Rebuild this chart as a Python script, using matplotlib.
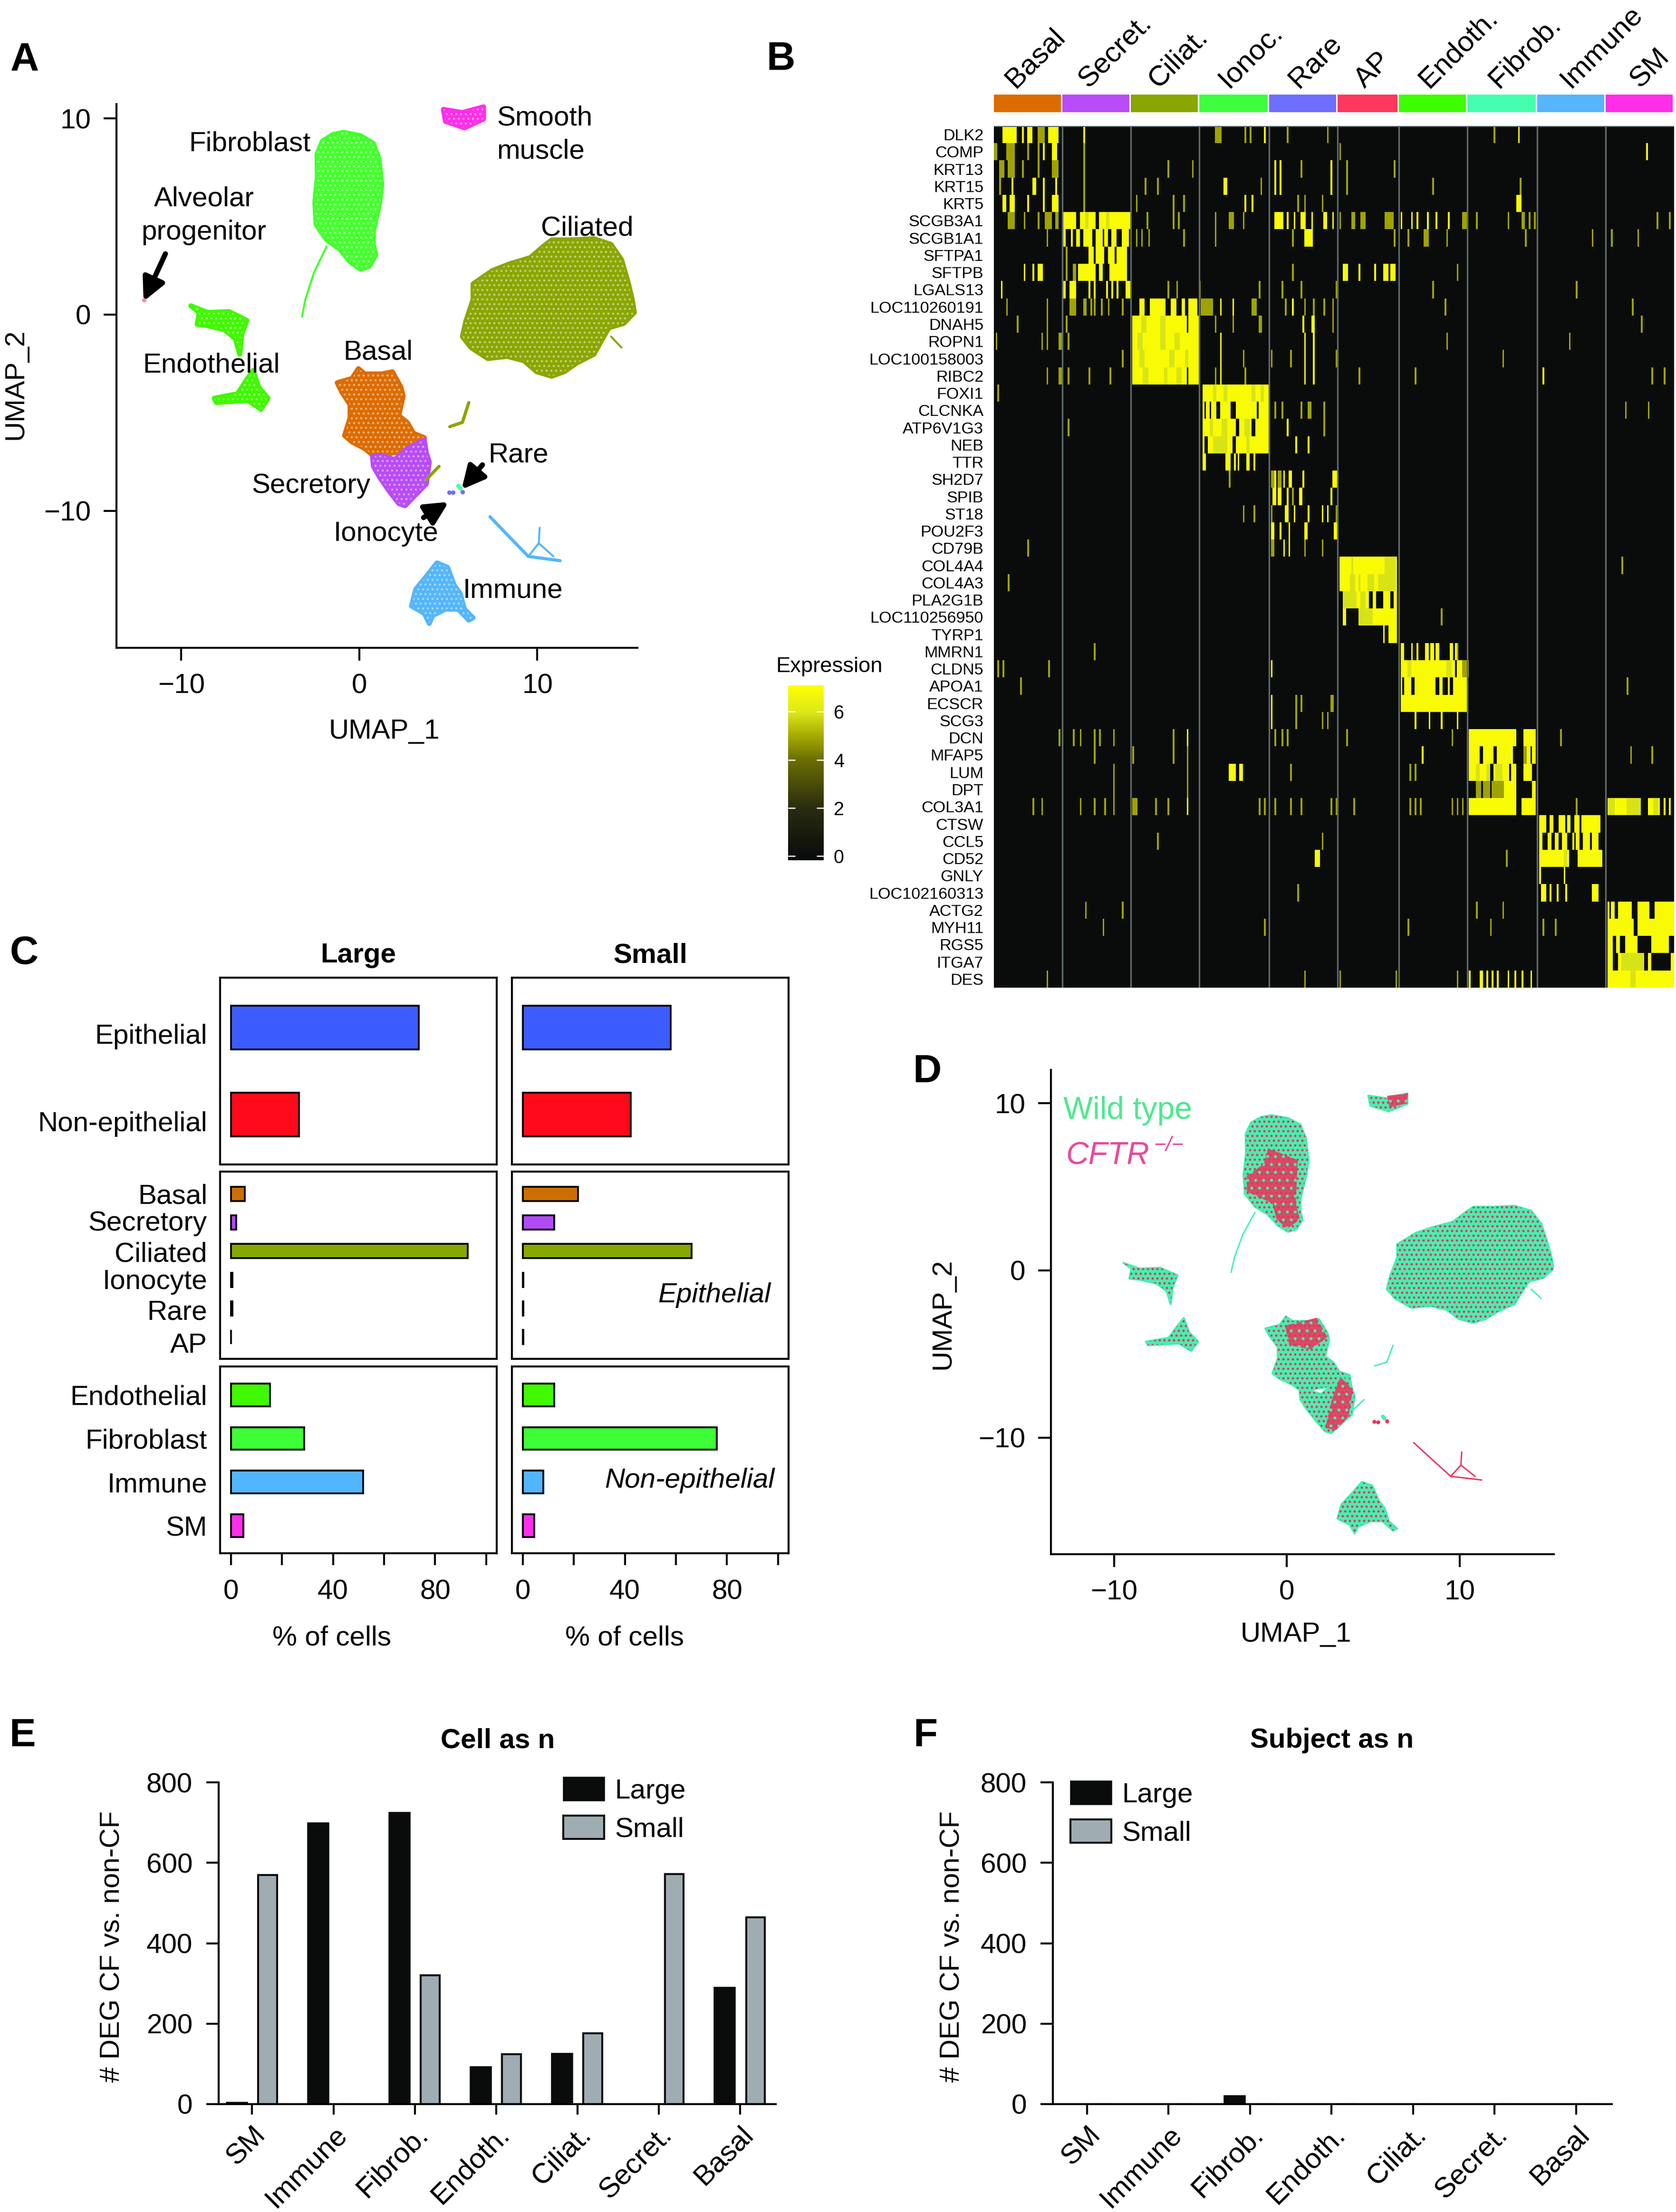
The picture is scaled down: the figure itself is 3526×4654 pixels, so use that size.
import matplotlib
matplotlib.use('Agg')
import matplotlib.pyplot as plt
import numpy as np
from matplotlib.colors import LinearSegmentedColormap, Normalize
from matplotlib.transforms import ScaledTranslation

W, H = 3526, 4654
plt.rcParams['font.family'] = ['Liberation Sans', 'DejaVu Sans']
plt.rcParams['font.size'] = 14
plt.rcParams['hatch.linewidth'] = 0.7
plt.rcParams['axes.linewidth'] = 1.0

# colours
c_basal = '#dd6c00'
c_secret = '#b84cf8'
c_ciliat = '#8aa600'
c_ionoc = '#3dff3d'
c_rare = '#6e6eff'
c_ap = '#ff3860'
c_endoth = '#40f800'
c_fibrob = '#45ff2e'
c_fibrob_head = '#45ffb0'
c_immune = '#55b6fb'
c_sm = '#ff2ee8'

# UMAP cluster outlines
fibroblast = [(-2.07, 8.85), (-1.48, 9.18), (-0.88, 9.29), (0.07, 9.12), (0.79, 8.73), (1.10, 7.95), (1.26, 6.61),
              (1.14, 5.71), (0.79, 4.26), (0.79, 3.58), (0.91, 3.02), (0.55, 2.46), (0.07, 2.31), (-0.52, 2.69),
              (-1.12, 3.36), (-1.84, 3.81), (-2.43, 4.59), (-2.50, 5.71), (-2.36, 7.05), (-2.38, 8.17)]
fibroblast_tail = [(-1.84, 3.47), (-2.55, 2.13), (-3.03, 0.78), (-3.22, -0.11)]
ciliated = [(10.80, 3.81), (11.99, 3.81), (13.18, 3.87), (14.14, 3.58), (14.73, 2.80), (15.09, 1.68), (15.33, 0.78),
            (15.45, 0.11), (14.85, -0.45), (14.02, -0.67), (13.66, -1.23), (13.18, -2.02), (12.23, -2.46), (11.51, -2.91),
            (10.80, -3.14), (9.96, -2.91), (9.25, -2.35), (8.30, -2.13), (7.22, -2.24), (6.27, -1.68), (5.79, -1.12),
            (5.98, -0.34), (6.39, 0.78), (6.39, 1.57), (7.46, 2.24), (8.41, 2.58), (9.61, 2.91), (10.32, 3.47)]
ciliated_tail = [(14.14, -1.12), (14.73, -1.68)]
ciliated_bit = [(6.15, -4.48), (5.79, -5.49), (5.08, -5.71)]
ciliated_bit2 = [(4.48, -7.73), (3.77, -8.40)]
basal = [(-1.24, -3.47), (-0.41, -3.25), (-0.05, -2.75), (0.31, -3.02), (1.26, -3.02), (1.86, -2.91), (2.34, -3.70),
         (2.46, -4.14), (2.22, -5.15), (2.69, -5.49), (3.05, -6.05), (3.65, -6.27), (3.65, -6.83), (2.69, -6.94),
         (1.86, -7.05), (0.91, -7.28), (0.31, -6.83), (-0.41, -6.49), (-0.83, -6.16), (-0.52, -5.26), (-0.52, -4.59),
         (-1.00, -3.92)]
secretory = [(0.74, -7.23), (1.26, -7.17), (1.98, -7.39), (2.69, -6.83), (3.65, -6.38), (3.77, -7.05), (3.93, -7.50),
             (3.77, -8.62), (3.17, -9.18), (2.57, -9.74), (2.22, -9.63), (1.74, -9.07), (1.14, -8.29), (0.79, -7.73)]
endo_top = [(-9.46, 0.45), (-8.51, 0.11), (-7.32, 0.16), (-6.32, -0.29), (-6.60, -1.01), (-6.72, -2.02), (-6.96, -1.23),
            (-7.56, -0.78), (-8.51, -0.56), (-9.11, -0.49), (-8.99, 0.11)]
endo_low = [(-8.15, -4.26), (-6.84, -4.03), (-6.36, -3.36), (-5.96, -2.84), (-5.65, -3.70), (-5.13, -4.26), (-5.53, -4.82),
            (-6.25, -4.37), (-8.03, -4.48)]
smooth = [(4.72, 10.46), (5.79, 10.30), (6.98, 10.59), (6.98, 9.97), (5.91, 9.52), (4.84, 9.85)]
immune = [(3.77, -13.33), (4.36, -12.65), (4.96, -12.88), (5.32, -13.77), (5.67, -14.22), (5.91, -15.01), (6.39, -15.45),
          (6.15, -15.57), (5.55, -15.01), (4.84, -15.01), (4.12, -15.34), (3.93, -15.74), (3.65, -15.23), (2.93, -14.85),
          (3.17, -14.00)]
immune_streak = [(7.34, -10.30), (8.41, -11.31), (9.49, -12.32), (11.28, -12.54)]
immune_streak2 = [(9.49, -12.32), (10.08, -11.65), (10.13, -10.86)]
immune_streak3 = [(10.08, -11.65), (10.90, -12.32)]
rare_pts = [(5.79, -9.03), (5.27, -9.07), (5.05, -9.05)]
ionocyte_pts = [(5.55, -8.73), (5.65, -8.85)]
alveolar_pts = [(-12.09, 0.74)]

# denser CFTR-/- patches
dense_fibro = [(-1.08, 7.31), (0.64, 6.60), (0.52, 4.01), (0.76, 3.07), (0.02, 2.48), (-0.59, 3.07), (-0.83, 4.01),
               (-2.31, 4.72), (-2.31, 5.66), (-1.33, 6.37)]
dense_basal = [(-0.10, -3.30), (1.74, -2.83), (2.36, -4.01), (1.37, -4.72), (0.15, -4.48)]
dense_secret = [(3.09, -6.37), (3.83, -7.08), (3.58, -8.73), (2.85, -9.55), (2.23, -9.43), (2.60, -7.78)]
dense_sm = [(5.80, 10.45), (7.02, 10.60), (6.95, 10.00), (5.95, 9.75)]

# panel C bars
c_top_names = ['Epithelial', 'Non-epithelial']
c_top_large = [73.6, 26.6]
c_top_small = [57.9, 42.3]
c_top_colors = ['#3d5cff', '#ff0a1a']
c_top_label_y = [0.076, 1.076]
c_mid_names = ['Basal', 'Secretory', 'Ciliated', 'Ionocyte', 'Rare', 'AP']
c_mid_large = [5.4, 2.2, 92.7, 0.6, 0.6, 0]
c_mid_small = [21.6, 12.3, 66.1, 0.3, 0.3, 0.3]
c_mid_colors = ['#cc6f00', '#b24bf5', '#86a800', c_ionoc, c_rare, c_ap]
c_mid_label_y = [0, 0.94, 2.02, 2.97, 4.04, 5.2]
c_low_names = ['Endothelial', 'Fibroblast', 'Immune', 'SM']
c_low_large = [15.3, 28.8, 51.8, 5.0]
c_low_small = [12.3, 76.0, 8.1, 4.6]
c_low_colors = ['#40f800', '#3dff35', '#52b6ff', '#ff2eea']
c_low_label_y = [0, 1, 2, 3]

# panels E and F bars
deg_names = ['SM', 'Immune', 'Fibrob.', 'Endoth.', 'Ciliat.', 'Secret.', 'Basal']
cell_large = [5, 699, 726, 93, 127, 0, 291]
cell_small = [569, 0, 320, 124, 176, 572, 464]
subj_large = [0, 0, 21, 0, 0, 0, 0]
subj_small = [0, 0, 0, 0, 0, 0, 0]

# heatmap: stripes per gene in cell columns, int = one cell, tuple = [start, end)
hm_groups = ['Basal', 'Secret.', 'Ciliat.', 'Ionoc.', 'Rare', 'AP', 'Endoth.', 'Fibrob.', 'Immune', 'SM']
hm_edges = [0, 39, 78, 117, 157, 196, 231, 270, 310, 349, 388]
hm_colors = [c_basal, c_secret, c_ciliat, c_ionoc, c_rare, c_ap, '#3dff00', c_fibrob_head, c_immune, c_sm]
hm_genes = ['DLK2', 'COMP', 'KRT13', 'KRT15', 'KRT5', 'SCGB3A1', 'SCGB1A1', 'SFTPA1', 'SFTPB', 'LGALS13',
            'LOC110260191', 'DNAH5', 'ROPN1', 'LOC100158003', 'RIBC2', 'FOXI1', 'CLCNKA', 'ATP6V1G3', 'NEB', 'TTR',
            'SH2D7', 'SPIB', 'ST18', 'POU2F3', 'CD79B', 'COL4A4', 'COL4A3', 'PLA2G1B', 'LOC110256950', 'TYRP1',
            'MMRN1', 'CLDN5', 'APOA1', 'ECSCR', 'SCG3', 'DCN', 'MFAP5', 'LUM', 'DPT', 'COL3A1',
            'CTSW', 'CCL5', 'CD52', 'GNLY', 'LOC102160313', 'ACTG2', 'MYH11', 'RGS5', 'ITGA7', 'DES']
hm_bright = [
    [(5, 13), 16, (19, 22), (31, 37), 51, 154, 299],
    [28, (33, 36), 372],
    [(160, 161), (163, 164), 192],
    [10, (22, 24), 28, 35, (131, 133), 160, 163, 192],
    [(5, 7), (9, 12), 19, 28, (33, 37), 143, 147, (298, 301)],
    [(39, 47), (49, 58), (60, 78), (160, 165), 167, 171, (175, 178), 181, (188, 190), 193, 232, 238, 241, 247, 252, 259],
    [(39, 41), 44, (47, 49), (51, 56), (58, 62), (63, 65), (67, 70), (73, 77), (177, 182)],
    [(54, 57), (58, 63), (65, 69), (70, 76)],
    [17, 22, (25, 28), (48, 58), (60, 62), (66, 76), (199, 202), 208, 217, (222, 225), (226, 229)],
    [4, (39, 41), (43, 47), 54, 57, 64, 67, 70, (75, 78)],
    [(83, 86), (89, 98), (101, 104), (107, 109), (111, 116), 129, 136, 170],
    [(79, 110), (111, 117), (181, 183), 176],
    [(79, 117), 129, 177, 182],
    [(79, 117), 129, 177, 182],
    [(79, 110), (111, 117), 129, 177, 182, 313],
    [(119, 157)],
    [119, (121, 123), (124, 127), (129, 135), (138, 150), (151, 157)],
    [(119, 138), (140, 147), (149, 157), 167],
    [119, (122, 136), (138, 157), 172, 179],
    [(119, 121), (132, 135), 137, 139, (144, 146), 148],
    [160, 165, (168, 170), 176, (193, 196)],
    [(159, 161), (162, 164), 167, (174, 176), 192],
    [(166, 168), 171, 179, 187, 190],
    [(158, 160), 163, 168, (177, 179), (194, 196)],
    [165, 168],
    [(197, 230)],
    [(197, 203), (203, 230)],
    [(199, 214), (216, 218), (222, 226), (228, 230)],
    [(199, 201), (208, 230)],
    [222, (225, 230)],
    [(232, 234), 238, 241, (246, 248), (249, 251), (252, 254), (260, 262), (263, 265)],
    [158, (232, 263), (264, 267)],
    [(232, 233), (234, 238), (240, 252), (254, 256), 259, (262, 270)],
    [158, (232, 270)],
    [158, 240, 248, 255, 264],
    [110, (271, 298), (302, 309)],
    [(271, 277), (279, 285), (287, 296), (304, 306), (307, 309), 244],
    [(134, 138), (140, 142), (271, 283), (285, 294), (295, 298), (302, 307)],
    [(291, 298), (307, 309)],
    [110, (271, 298), (301, 309), (350, 369), (373, 380), 382, 385],
    [(311, 315), (317, 319), (322, 326), (327, 329), (331, 334), (335, 346)],
    [(311, 313), (316, 318), (320, 322), (324, 327), 330, (332, 334), (336, 340), (341, 345)],
    [(183, 186), (311, 328), (333, 347)],
    [311, 325],
    [(312, 315), 317, 321, 326, (341, 345)],
    [(350, 351), (352, 354), (356, 364), (367, 374), (377, 388)],
    [(350, 365), (367, 388)],
    [(350, 353), (355, 357), (360, 367), (375, 385)],
    [(350, 353), (356, 371), (373, 375), (386, 388)],
    [(350, 388), 271, (277, 279), 281, 284, 287, 293, 297, 301, 306],
]
hm_mid = {
    5: [(52, 54), (64, 66)],
    11: [(84, 87), (95, 98)],
    12: [(82, 85), (95, 98), (103, 106)],
    13: [(83, 86), (100, 103), (109, 111)],
    14: [(85, 88), (97, 99), (104, 107)],
    15: [(125, 127), (131, 133), (147, 149), (152, 154)],
    17: [(123, 125), (130, 133), (143, 146)],
    18: [(125, 133), (144, 146)],
    25: [(204, 205), (223, 229)],
    26: [(203, 206), (208, 209), (213, 217), (219, 229)],
    27: [(199, 207), (209, 212)],
    28: [(208, 216)],
    31: [(236, 238), (258, 261)],
    37: [(275, 277), (281, 283), (286, 290)],
    39: [(350, 354), (361, 369), (376, 379)],
    42: [(325, 327)],
    48: [(358, 371)],
    49: [(363, 366)],
}
hm_dim = [
    [(25, 29), (126, 130), 143, 146, 167, 190, 285],
    [(0, 2), (7, 12), 19, 25, 51, 197],
    [(3, 6), (8, 12), 16, 25, (33, 37), 51, 99, 113, 175, 201, 228],
    [3, 51, 86, 93, 152, 201, 250, 300],
    [51, 81, 102, 108, 173, 177, 187],
    [(8, 12), 17, 25, (29, 33), (35, 37), 87, 102, 105, 126, (134, 137), 142, 197, (204, 206), (209, 212), (223, 228),
     (267, 270), 275, 293, (301, 303), 305, 308, 378, 385],
    [30, 81, 84, 88, 108, 126, 170, 228, 236, (245, 248), 258, 303, 341, 352, 367],
    [41],
    [41, (45, 47), 170, 264],
    [99, 104, 117, 151, 164, 175, 195, 250, 332],
    [7, 30, (43, 47), (51, 53), 55, 57, 61, 65, 73, (118, 125), (147, 150), 166, 177, 182, 188, 193, 257, 364],
    [13, 30, 41, 126, 136, (151, 153), 193, 369],
    [1, 27, 30, (37, 39), 42, 258, 328],
    [73, 142, 158, 169, 195, 290],
    [30, (37, 39), 42, 54, 66, 126, 143, 208, 240, 375, 382],
    [2],
    [160, 164, 175, (179, 181), 188, 360, 373],
    [42, 188],
    [],
    [],
    [(158, 160), (162, 164), 134],
    [170],
    [142, 148, 158, 195],
    [],
    [19, (158, 160), 177, 187],
    [358],
    [8],
    [],
    [255],
    [],
    [57, 264],
    [2, 5, 31, (267, 271)],
    [15, 361],
    [172, 175, (192, 194)],
    [172, 187, 190],
    [37, 45, 49, 57, 60, 68, 102, 160, 164, 167, 201, 261, 323],
    [57, 79, 102, 110, (302, 304), 363, 375],
    [68, 110, 169, 237, 240],
    [68, 110, (275, 278), (279, 283), (284, 291)],
    [22, 27, 49, 57, 63, 68, (79, 82), 92, 99, 151, 154, 160, 169, 175, 192, 195, 205, 237, 240, 243, 261, 264, 267, 332],
    [],
    [93, 187],
    [292],
    [],
    [173],
    [52, 73, 275, 290],
    [62, 154, 236, 283, 313, 320],
    [],
    [],
    [30, 177, 197, 229, 264],
]

fig = plt.figure(figsize=(W / 300, H / 300), dpi=300)


def px_ax(x0, y0, x1, y1):
    return fig.add_axes([x0 / W, 1 - y1 / H, (x1 - x0) / W, (y1 - y0) / H])


def px_text(x, y, s, ha='center', va='center', **kw):
    return fig.text(x / W, 1 - (y + 4) / H, s, ha=ha, va=va, **kw)


def px_arrow(x0, y0, x1, y1):
    fig.add_artist(matplotlib.patches.FancyArrowPatch(
        (x0 / W, 1 - y0 / H), (x1 / W, 1 - y1 / H), transform=fig.transFigure, arrowstyle='-|>',
        mutation_scale=24, lw=2.6, color='black', shrinkA=0, shrinkB=0))


def poly(ax, pts, color, hatch=None, hatch_color='white', alpha=1.0, lw=2.5):
    xs, ys = zip(*pts)
    if hatch is None:
        ax.fill(xs, ys, facecolor=color, edgecolor=color, lw=lw, alpha=alpha, joinstyle='round')
    else:
        ax.fill(xs, ys, facecolor=color, edgecolor=hatch_color, lw=0, hatch=hatch)


def curve(ax, pts, color, lw=1.0):
    xs, ys = zip(*pts)
    ax.plot(xs, ys, color=color, lw=lw, solid_capstyle='round', solid_joinstyle='round')


def umap_axes(ax, xlim, ylim):
    ax.set_xlim(*xlim)
    ax.set_ylim(*ylim)
    ax.set_xticks([-10, 0, 10])
    ax.set_yticks([-10, 0, 10])
    ax.set_xticklabels(['\u221210', '0', '10'])
    ax.set_yticklabels(['\u221210', '0', '10'])
    ax.spines['top'].set_visible(False)
    ax.spines['right'].set_visible(False)
    ax.tick_params(length=6.4, width=1, labelsize=14, pad=6.5)


# panel A
ax = px_ax(245, 219, 1341, 1363)
umap_axes(ax, (-13.64, 15.62), (-16.98, 10.73))
for pts, col in [(fibroblast, c_fibrob), (ciliated, c_ciliat), (basal, c_basal), (secretory, c_secret),
                 (endo_top, c_endoth), (endo_low, c_endoth), (smooth, c_sm), (immune, c_immune)]:
    poly(ax, pts, col)
    poly(ax, pts, 'none', hatch='.....', hatch_color='#ffffff66')
curve(ax, fibroblast_tail, c_fibrob)
curve(ax, ciliated_tail, c_ciliat)
curve(ax, ciliated_bit, c_ciliat, 1.6)
curve(ax, ciliated_bit2, c_ciliat, 1.6)
curve(ax, immune_streak, c_immune, 1.6)
curve(ax, immune_streak2, c_immune)
curve(ax, immune_streak3, c_immune)
ax.scatter(*zip(*rare_pts), s=5, color=c_rare, lw=0)
ax.scatter(*zip(*ionocyte_pts), s=5, color=c_fibrob_head, lw=0)
ax.scatter(*zip(*alveolar_pts), s=5, color='#ff8aa0', lw=0)

px_text(808, 1535, 'UMAP_1')
px_text(33, 804, 'UMAP_2', rotation=90)
px_text(525, 298, 'Fibroblast')
px_text(1045, 245, 'Smooth', ha='left')
px_text(1045, 315, 'muscle', ha='left')
px_text(429, 415, 'Alveolar')
px_text(429, 485, 'progenitor')
px_text(1235, 476, 'Ciliated')
px_text(795, 738, 'Basal')
px_text(444, 765, 'Endothelial')
px_text(654, 1018, 'Secretory')
px_text(1091, 953, 'Rare')
px_text(812, 1119, 'Ionocyte')
px_text(1079, 1239, 'Immune')
px_arrow(348, 534, 302, 634)
px_arrow(1015, 978, 971, 1030)
px_arrow(891, 1089, 944, 1056)

# panel B heatmap
hm = np.zeros((len(hm_genes), hm_edges[-1]))
for level, stripes in [(6.9, hm_bright), (4.9, hm_dim)]:
    for row, items in enumerate(stripes):
        for it in items:
            a, b = it if isinstance(it, tuple) else (it, it + 1)
            hm[row, a:b] = level
for row, items in hm_mid.items():
    for a, b in items:
        hm[row, a:b] = np.where(hm[row, a:b] > 0, 5.9, 0)

vmin, vmax = -0.17, 7.09
stops = [(0.0, '#0a0c0c'), (0.17 / 7.26, '#0a0c0c'), (2.17 / 7.26, '#2a2c10'), (4.17 / 7.26, '#6b6e00'),
         (5.17 / 7.26, '#a5aa00'), (6.17 / 7.26, '#dde81a'), (1.0, '#ffff00')]
cmap = LinearSegmentedColormap.from_list('expr', stops)

ax = px_ax(2091, 265, 3522, 2078)
im = ax.imshow(hm, aspect='auto', cmap=cmap, norm=Normalize(vmin, vmax), interpolation='nearest',
               extent=(0, hm_edges[-1], len(hm_genes), 0))
for e in hm_edges[1:-1]:
    ax.axvline(e, color='#5f6a6a', lw=0.8)
ax.axhline(0, color='#5f6a6a', lw=0.8)
ax.set_xticks([])
ax.set_yticks(np.arange(len(hm_genes)) + 0.5)
ax.set_yticklabels(hm_genes, fontsize=8.2)
ax.tick_params(axis='y', length=0, pad=5.3)
for s in ax.spines.values():
    s.set_visible(False)

# group colour strip, shares the heatmap's columns
ax = px_ax(2091, 199, 3522, 236)
ax.set_xlim(0, hm_edges[-1])
ax.set_ylim(0, 1)
ax.axis('off')
ax.bar(hm_edges[:-1], [1] * len(hm_groups), width=np.diff(hm_edges) - 0.8, align='edge', color=hm_colors)
hm_label_x = [2136, 2290, 2437, 2584, 2732, 2871, 3006, 3153, 3303, 3450]
for xp, name in zip(hm_label_x, hm_groups):
    px_text(xp, 183, name, ha='left', va='baseline', rotation=45, rotation_mode='anchor', fontsize=14.5)

cax = px_ax(1658, 1442, 1733, 1810)
cb = fig.colorbar(im, cax=cax, ticks=[0, 2, 4, 6])
cb.outline.set_visible(False)
cax.tick_params(length=3.5, width=0.6, color='white', direction='in', left=True, right=True, labelsize=9.5, pad=5)
px_text(1745, 1398, 'Expression', fontsize=10.9)


# panel C
def c_panel(box, names, vals, colors, ylim, height, label_y, bottom=False, show_names=False):
    ax = px_ax(*box)
    ax.barh(np.arange(len(names)), vals, height=height, color=colors, edgecolor='black', lw=0.9)
    ax.set_xlim(-4.2, 104.1)
    ax.set_ylim(*ylim)
    ax.set_yticks(label_y)
    ax.set_yticklabels(names if show_names else [])
    ax.tick_params(axis='y', length=0, pad=6.5, labelsize=14)
    ax.set_xticks(np.arange(0, 101, 20))
    if bottom:
        ax.set_xticklabels(['0', '', '40', '', '80', ''])
        ax.tick_params(axis='x', length=6, width=1, labelsize=14, pad=7)
    else:
        ax.tick_params(axis='x', length=0, labelbottom=False)
    return ax


for col, (x0, x1) in enumerate([(463, 1045), (1077, 1659)]):
    first = col == 0
    c_panel((x0, 2057, x1, 2450), c_top_names, c_top_large if first else c_top_small, c_top_colors,
            (1.568, -0.568), 0.5, c_top_label_y, show_names=first)
    c_panel((x0, 2465, x1, 2859), c_mid_names, c_mid_large if first else c_mid_small, c_mid_colors,
            (5.76, -0.776), 0.5, c_mid_label_y, show_names=first)
    c_panel((x0, 2875, x1, 3268), c_low_names, c_low_large if first else c_low_small, c_low_colors,
            (3.63, -0.65), 0.52, c_low_label_y, bottom=True, show_names=first)

px_text(754, 2006, 'Large', fontweight='bold')
px_text(1368, 2006, 'Small', fontweight='bold')
px_text(698, 3442, '% of cells')
px_text(1314, 3442, '% of cells')
px_text(1503, 2721, 'Epithelial', style='italic')
px_text(1451, 3111, 'Non-epithelial', style='italic')

# panel D
c_wt = '#44f0b0'
c_cf = '#f0305a'
ax = px_ax(2211, 2251, 3269, 3270)
umap_axes(ax, (-13.65, 15.46), (-16.98, 12.0))
for pts in [fibroblast, ciliated, basal, secretory, endo_top, endo_low, smooth, immune]:
    poly(ax, pts, c_wt, lw=1)
    poly(ax, pts, 'none', hatch='.....', hatch_color=c_cf)
for pts in [dense_fibro, dense_basal, dense_secret, dense_sm]:
    poly(ax, pts, c_cf, alpha=0.85, lw=0)
    poly(ax, pts, 'none', hatch='...', hatch_color=c_wt)
for pts in [fibroblast_tail, ciliated_tail, ciliated_bit, ciliated_bit2]:
    curve(ax, pts, c_wt, 0.7)
for pts in [immune_streak, immune_streak2, immune_streak3]:
    curve(ax, pts, c_cf, 0.7)
ax.scatter(*zip(*rare_pts), s=4, color=c_cf, lw=0)
ax.scatter(*zip(*ionocyte_pts), s=4, color=c_wt, lw=0)

px_text(2726, 3435, 'UMAP_1')
px_text(1983, 2760, 'UMAP_2', rotation=90)
px_text(2237, 2333, 'Wild type', ha='left', color='#4ee88f', fontsize=15.8)
px_text(2242, 2428, 'CFTR', ha='left', color='#e84a9a', fontsize=15.8, style='italic')
px_text(2427, 2407, '\u2212/\u2212', ha='left', color='#e84a9a', fontsize=10.5, style='italic')


# panels E and F
def deg_panel(box, xlim, large, small, legend_xy, ylabel_x):
    ax = px_ax(*box)
    x = np.arange(len(deg_names))
    ax.bar(x - 0.19, large, width=0.26, color='#0a0c0c', edgecolor='#0a0c0c', lw=0.6, label='Large')
    ax.bar(x + 0.19, small, width=0.23, color='#9fadb3', edgecolor='#0a0c0c', lw=1.0, label='Small')
    ax.set_xlim(*xlim)
    ax.set_ylim(0, 800)
    ax.set_yticks(np.arange(0, 801, 200))
    ax.set_xticks(x)
    ax.set_xticklabels(deg_names, rotation=45, ha='right', rotation_mode='anchor')
    shift = ScaledTranslation(-5 / 72, 0, fig.dpi_scale_trans)
    for lab in ax.get_xticklabels():
        lab.set_transform(lab.get_transform() + shift)
    ax.spines['top'].set_visible(False)
    ax.spines['right'].set_visible(False)
    ax.tick_params(axis='y', length=6.2, width=1, pad=7, labelsize=14)
    ax.tick_params(axis='x', length=5.3, width=1, pad=3.5, labelsize=14.4)
    ax.legend(loc='upper left', bbox_to_anchor=(legend_xy[0] / W, 1 - legend_xy[1] / H), bbox_transform=fig.transFigure,
              frameon=False, borderpad=0, borderaxespad=0, handlelength=1.48, handleheight=0.91, labelspacing=0.42,
              handletextpad=0.38, fontsize=14)
    px_text(ylabel_x, 4092, '# DEG CF vs. non-CF', rotation=90)
    return ax


deg_panel((460, 3750, 1632, 4427), (-0.412, 6.44), cell_large, cell_small, (1185, 3739), 236)
deg_panel((2215, 3750, 3391, 4427), (-0.418, 6.44), subj_large, subj_small, (2252, 3747), 2003)
px_text(1047, 3658, 'Cell as n', fontweight='bold')
px_text(2802, 3658, 'Subject as n', fontweight='bold')

# panel letters
for xp, yp, letter in [(52, 122, 'A'), (1643, 121, 'B'), (51, 2002, 'C'), (1951, 2251, 'D'), (47, 3648, 'E'), (1947, 3648, 'F')]:
    px_text(xp, yp, letter, fontweight='bold', fontsize=20)

fig.savefig('out.png', dpi=300)
